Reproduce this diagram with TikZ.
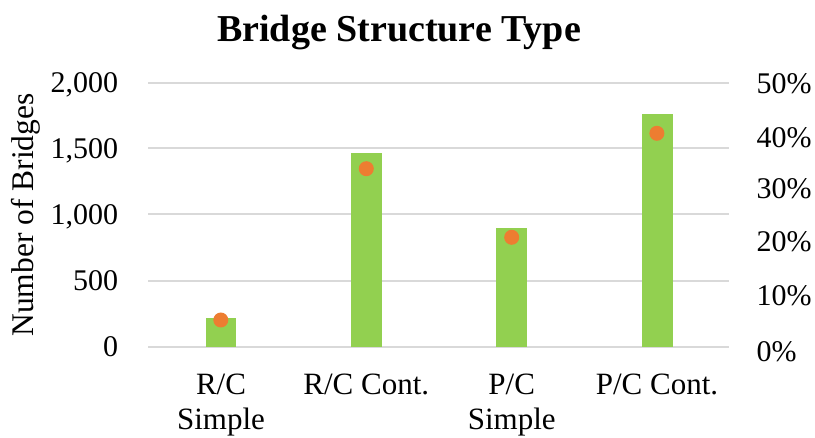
\documentclass[tikz,border=0pt]{standalone}
\usepackage{fontspec}
\setmainfont{Liberation Serif}
\definecolor{gridgray}{HTML}{D9D9D9}
\definecolor{bargreen}{HTML}{92D050}
\definecolor{dotorange}{HTML}{ED7D31}
\begin{document}
\begin{tikzpicture}[x=1pt,y=-1pt,
  gridline/.style={draw=gridgray,line width=2pt},
  barbox/.style={fill=bargreen,draw=none},
  dotmark/.style={circle,fill=dotorange,draw=none,minimum size=15pt,inner sep=0pt},
  lab/.style={font=\fontsize{30}{35}\selectfont,inner sep=0pt},
  catlab/.style={font=\fontsize{31}{36}\selectfont,inner sep=0pt},
  ttl/.style={font=\fontsize{38}{44}\selectfont\bfseries,inner sep=0pt}
]
\useasboundingbox (0,0) rectangle (815,438);
% title
\node[ttl,anchor=base] (title) at (399,41.5) {Bridge Structure Type};
% gridlines
\foreach \y/\n in {346.7/g0,280.7/g1,214.3/g2,148.3/g3,82.7/g4}
  \draw[gridline] (148,\y) coordinate (\n a) -- (729,\y) coordinate (\n b);
% left axis labels
\foreach \y/\t/\n in {346.7/0/l0,280.7/500/l1,214.3/{1,000}/l2,148.3/{1,500}/l3,82.7/{2,000}/l4}
  \node[lab,anchor=base east] (\n) at (118.3,\y+10) {\t};
% right axis labels
\foreach \y/\t/\n in {352/0\%/r0,296/10\%/r1,242/20\%/r2,189/30\%/r3,138/40\%/r4,84/50\%/r5}
  \node[lab,anchor=base west] (\n) at (756.5,\y+10) {\t};
% axis title
\node[font=\fontsize{31.5}{36}\selectfont,inner sep=0pt,rotate=90,anchor=base] (ytitle) at (33.5,215) {Number of Bridges};
% bars
\fill[barbox] (205.5,346.7) rectangle (236.3,317.7);
\fill[barbox] (351,346.7) rectangle (381.7,153.3);
\fill[barbox] (496.3,346.7) rectangle (526.9,228.3);
\fill[barbox] (642,346.7) rectangle (672.7,114.3);
% dots
\node[dotmark] (d1) at (220.8,320) {};
\node[dotmark] (d2) at (366.3,168.7) {};
\node[dotmark] (d3) at (511.7,237.3) {};
\node[dotmark] (d4) at (656.9,133.3) {};
% category labels
\node[catlab,anchor=base] (c1a) at (221,395) {R/C};
\node[catlab,anchor=base] (c1b) at (221,430) {Simple};
\node[catlab,anchor=base] (c2) at (366.3,395) {R/C Cont.};
\node[catlab,anchor=base] (c3a) at (511.7,395) {P/C};
\node[catlab,anchor=base] (c3b) at (511.7,430) {Simple};
\node[catlab,anchor=base] (c4) at (657,395) {P/C Cont.};
\end{tikzpicture}
\end{document}
